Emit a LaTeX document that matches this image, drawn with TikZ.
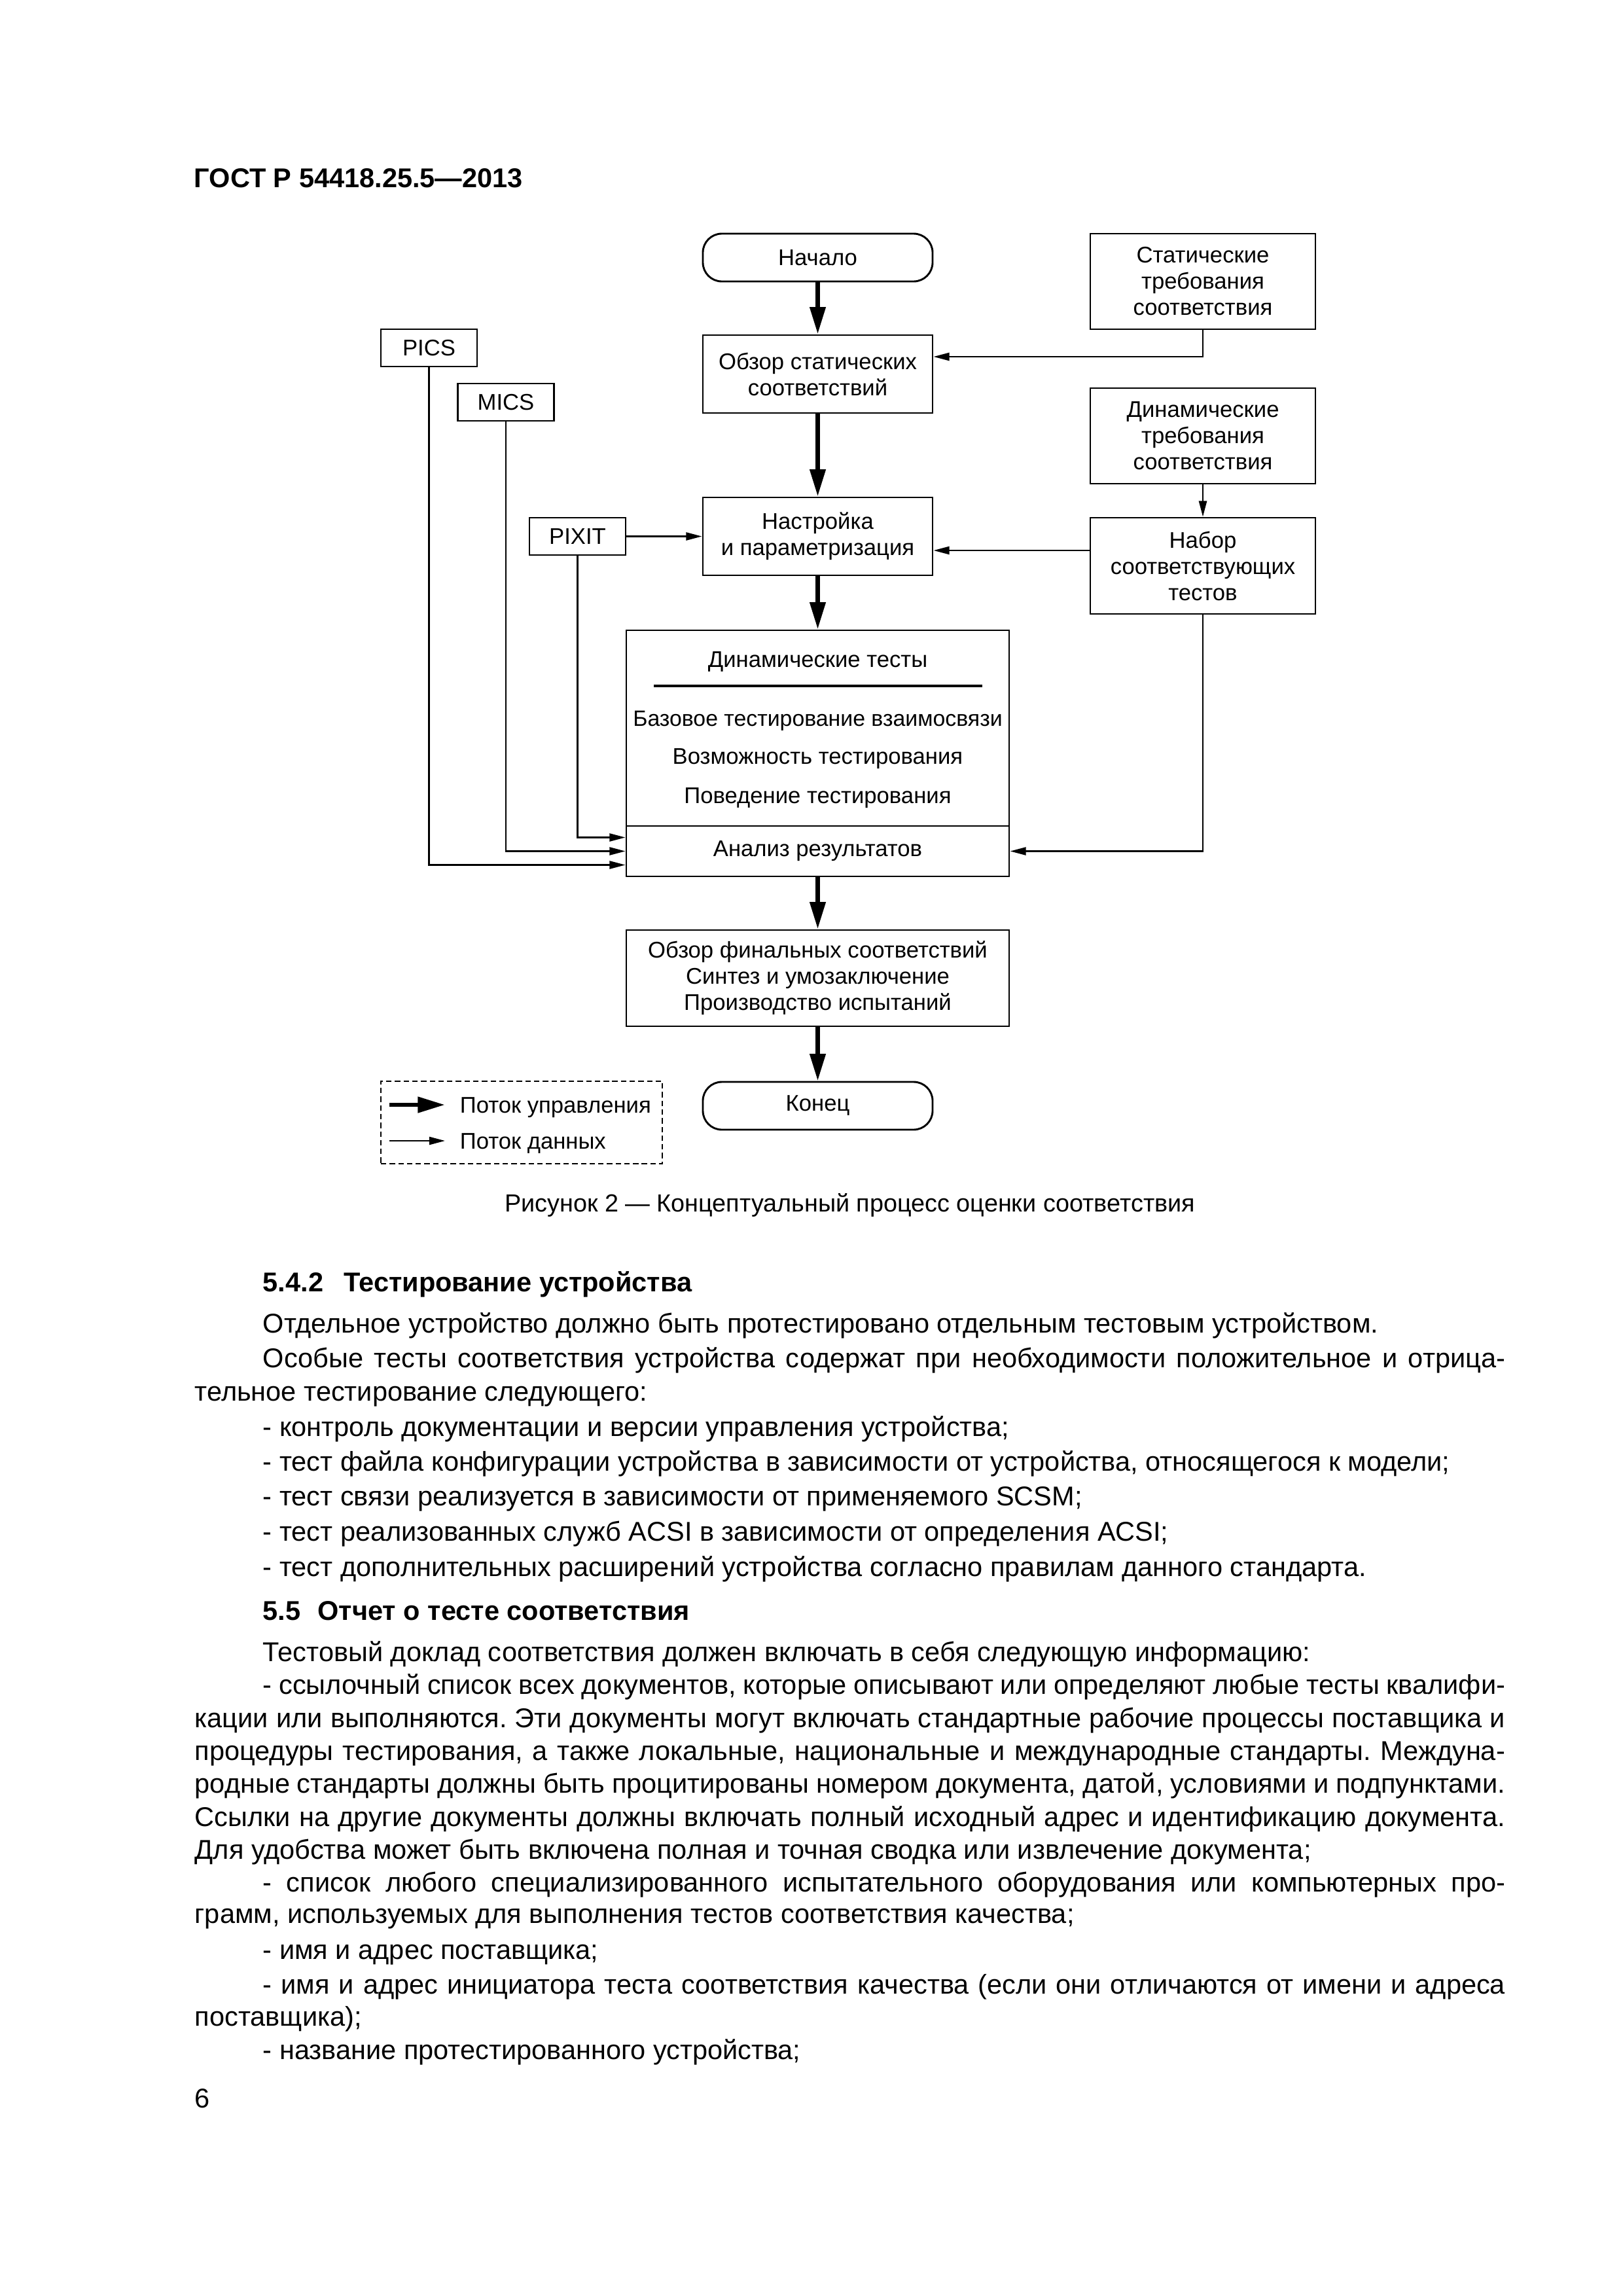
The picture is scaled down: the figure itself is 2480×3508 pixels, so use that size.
\documentclass[tikz,border=0pt]{standalone}
\usepackage{fontspec}
\setmainfont{Liberation Sans}
\usetikzlibrary{arrows.meta,calc}
\newcommand\figfont{\fontsize{8.35}{9.64}\selectfont}
\newcommand\bodyfont{\fontsize{10}{12}\selectfont}
\newcommand\capfont{\fontsize{9.1}{11}\selectfont}
\newcommand\hdrfont{\fontsize{10}{12}\selectfont\bfseries}
\frenchspacing
\begin{document}
\begin{tikzpicture}[x=0.084677mm, y=-0.084677mm,
  box/.style={draw, line width=0.7pt, inner sep=0pt, align=center, font=\figfont},
  wide/.style={box, minimum width=82.88pt, minimum height=35.18pt},
  small/.style={box, minimum width=35.42pt, minimum height=13.73pt},
  mid/.style={box, minimum width=84.57pt, minimum height=28.67pt},
  term/.style={box, rounded corners=7pt, minimum width=84.57pt, minimum height=17.59pt},
  ftext/.style={anchor=base, inner sep=0pt, font=\figfont},
  ctrl/.style={line width=1.6pt, -{Triangle[length=10pt, width=5.6pt]}},
  data/.style={line width=0.55pt, -{Triangle[length=5.8pt, width=2.9pt]}},
  bline/.style={anchor=base west, inner sep=0pt, font=\bodyfont},
  hline/.style={anchor=base west, inner sep=0pt, font=\bodyfont\bfseries}
]
\useasboundingbox (0,0) rectangle (2480,3508);
\fill[white] (0,0) rectangle (2480,3508);

% header
\node[anchor=base west, inner sep=0pt, font=\hdrfont] (hdr) at (296,286) {ГОСТ Р 54418.25.5—2013};

% nodes of the diagram
\node[term] (start) at (1249.5,393.5) {Начало};
\node[wide] (stat) at (1838,430) {Статические\\требования\\соответствия};
\node[small] (pics) at (655.5,531.5) {PICS};
\node[mid] (review) at (1249.5,571.5) {Обзор статических\\соответствий};
\node[small] (mics) at (773,614.5) {MICS};
\node[wide] (dyn) at (1838,666) {Динамические\\требования\\соответствия};
\node[mid] (setup) at (1249.5,819.5) {Настройка\\и параметризация};
\node[small] (pixit) at (882.5,819.5) {PIXIT};
\node[wide, minimum height=35.42pt] (set) at (1838,864.5) {Набор\\соответствующих\\тестов};
\node[box, minimum width=140.94pt, minimum height=72.04pt] (dynbox) at (1249.5,1112.5) {};
\node[ftext] (dt) at (1249.5,1019) {Динамические тесты};
\draw[line width=0.8pt] (999,1048) -- (1501,1048);
\node[ftext, font=\fontsize{8.15}{9.64}\selectfont] (bt) at (1249.5,1109) {Базовое тестирование взаимосвязи};
\node[ftext] (vt) at (1249.5,1167) {Возможность тестирования};
\node[ftext] (pt) at (1249.5,1227) {Поведение тестирования};
\node[box, minimum width=140.94pt, minimum height=18.55pt] (anal) at (1249.5,1300.5) {Анализ результатов};
\node[box, minimum width=140.94pt, minimum height=35.42pt] (final) at (1249.5,1494.5) {Обзор финальных соответствий\\Синтез и умозаключение\\Производство испытаний};
\node[term] (end) at (1249.5,1689.5) {Конец};

% control flow
\draw[ctrl] (start) -- (review);
\draw[ctrl] (review) -- (setup);
\draw[ctrl] (setup) -- (dynbox);
\draw[ctrl] (anal) -- (final);
\draw[ctrl] (final) -- (end);

% data flow
\draw[data] (stat.south) |- ($(review.east)+(0,-26.5)$);
\draw[data] (dyn) -- (set);
\draw[data] (pixit) -- (setup);
\draw[data] ($(set.west)+(0,-23.5)$) -- ($(setup.east)+(0,21.5)$);
\draw[data] (set.south) |- (anal.east);
\draw[data] (pixit.south) |- ($(anal.west)+(0,-21)$);
\draw[data] (mics.south) |- (anal.west);
\draw[data] (pics.south) |- ($(anal.west)+(0,21)$);

% legend
\node[draw, line width=0.5pt, dash pattern=on 2pt off 1.2pt, inner sep=0pt, minimum width=103.6pt, minimum height=30.36pt] (legend) at (797,1715) {};
\coordinate (lc1) at (595,1688);
\coordinate (lc2) at (680,1688);
\coordinate (ld1) at (595,1743);
\coordinate (ld2) at (680,1743);
\draw[ctrl] (lc1) -- (lc2);
\draw[data] (ld1) -- (ld2);
\node[anchor=base west, inner sep=0pt, font=\figfont] (lt1) at (702,1700) {Поток управления};
\node[anchor=base west, inner sep=0pt, font=\figfont] (lt2) at (702,1755) {Поток данных};

% caption
\node[anchor=base, inner sep=0pt, font=\capfont] (cap) at (1298.5,1851) {Рисунок 2 — Концептуальный процесс оценки соответствия};

% body text
\node[hline] (h1) at (401,1973) {5.4.2\hspace{7.5pt}Тестирование устройства};
\node[bline] (l1) at (401,2036) {Отдельное устройство должно быть протестировано отдельным тестовым устройством.};
\node[bline] (l2) at (401,2089) {\makebox[457.28pt][s]{Особые тесты соответствия устройства содержат при необходимости положительное и отрица-}};
\node[bline] (l3) at (297,2140) {тельное тестирование следующего:};
\node[bline] (l4) at (401,2194) {- контроль документации и версии управления устройства;};
\node[bline] (l5) at (401,2247) {- тест файла конфигурации устройства в зависимости от устройства, относящегося к модели;};
\node[bline] (l6) at (401,2300) {- тест связи реализуется в зависимости от применяемого SCSM;};
\node[bline] (l7) at (401,2354) {- тест реализованных служб ACSI в зависимости от определения ACSI;};
\node[bline] (l8) at (401,2408) {- тест дополнительных расширений устройства согласно правилам данного стандарта.};
\node[hline] (h2) at (401,2475) {5.5\hspace{6.3pt}Отчет о тесте соответствия};
\node[bline] (m1) at (401,2538) {Тестовый доклад соответствия должен включать в себя следующую информацию:};
\node[bline] (m2) at (401,2588) {\makebox[457.28pt][s]{- ссылочный список всех документов, которые описывают или определяют любые тесты квалифи-}};
\node[bline] (m3) at (297,2639) {\makebox[482.34pt][s]{кации или выполняются. Эти документы могут включать стандартные рабочие процессы поставщика и}};
\node[bline] (m4) at (297,2689) {\makebox[482.34pt][s]{процедуры тестирования, а также локальные, национальные и международные стандарты. Междуна-}};
\node[bline] (m5) at (297,2739) {\makebox[482.34pt][s]{родные стандарты должны быть процитированы номером документа, датой, условиями и подпунктами.}};
\node[bline] (m6) at (297,2790) {\makebox[482.34pt][s]{Ссылки на другие документы должны включать полный исходный адрес и идентификацию документа.}};
\node[bline] (m7) at (297,2840) {Для удобства может быть включена полная и точная сводка или извлечение документа;};
\node[bline] (m8) at (401,2890) {\makebox[457.28pt][s]{- список любого специализированного испытательного оборудования или компьютерных про-}};
\node[bline] (m9) at (297,2938) {грамм, используемых для выполнения тестов соответствия качества;};
\node[bline] (m10) at (401,2993) {- имя и адрес поставщика;};
\node[bline] (m11) at (401,3046) {\makebox[457.28pt][s]{- имя и адрес инициатора теста соответствия качества (если они отличаются от имени и адреса}};
\node[bline] (m12) at (297,3095) {поставщика);};
\node[bline] (m13) at (401,3146) {- название протестированного устройства;};
\node[bline] (pg) at (297,3220) {6};
\end{tikzpicture}
\end{document}
